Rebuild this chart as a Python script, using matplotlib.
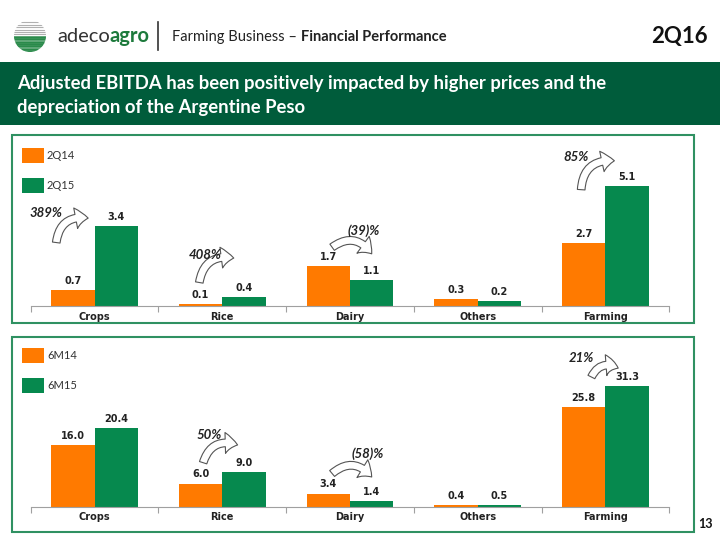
import matplotlib
matplotlib.use("Agg")
import numpy as np
import matplotlib.pyplot as plt
from matplotlib.patches import Rectangle, FancyArrowPatch, Circle

plt.rcParams["font.family"] = ["Lato", "DejaVu Sans"]

# data
categories = ["Crops", "Rice", "Dairy", "Others", "Farming"]
q_series = ["2Q14", "2Q15"]
q14 = [0.7, 0.1, 1.7, 0.3, 2.7]
q15 = [3.4, 0.4, 1.1, 0.2, 5.1]
m_series = ["6M14", "6M15"]
m14 = [16.0, 6.0, 3.4, 0.4, 25.8]
m15 = [20.4, 9.0, 1.4, 0.5, 31.3]

# change labels: (text, text xy, arrow tail, arrow head) in data units
q_changes = [
    ("389%", (-0.38, 3.96), (-0.30, 2.70), (-0.05, 3.74)),
    ("408%", (0.87, 2.17), (0.82, 1.00), (1.09, 2.04)),
    ("(39)%", (2.11, 3.22), (1.86, 2.50), (2.17, 2.22)),
    ("85%", (3.77, 6.35), (3.81, 4.95), (4.07, 6.18)),
]
m_changes = [
    ("50%", (0.90, 18.6), (0.85, 11.4), (1.12, 16.0)),
    ("(58)%", (2.14, 13.8), (1.86, 8.6), (2.17, 7.7)),
    ("21%", (3.81, 38.5), (3.89, 33.6), (4.10, 35.9)),
]

ORANGE = "#FF7A00"
GREEN = "#06894E"
DARK = "#005C3B"
W, H = 720, 540


def fx(px):
    return px / W


def fy(py):
    return 1 - py / H


fig = plt.figure(figsize=(7.2, 5.4), dpi=100)
renderer = fig.canvas.get_renderer()


def seq_text(x, y, parts, size):
    # draws text pieces one after another on a line (pixel coords)
    for s, weight, color in parts:
        t = fig.text(fx(x), fy(y), s, fontsize=size, fontweight=weight,
                     color=color, va="center", ha="left")
        bb = t.get_window_extent(renderer)
        x += bb.width


# header logo
lax = fig.add_axes([fx(14), fy(52), fx(32), 32 / H])
lax.set_xlim(-1, 1)
lax.set_ylim(-1, 1)
lax.set_aspect("equal")
lax.axis("off")
clip = Circle((0, 0), 1, transform=lax.transData)
for yy in np.arange(-0.95, 1.0, 0.15):
    col = "#2a8a4a" if yy < 0.05 else "#b0b0b0"
    lw = 1.8 if yy < 0.05 else 0.8
    ln, = lax.plot([-1, 1], [yy, yy], color=col, lw=lw)
    ln.set_clip_path(clip)

seq_text(57, 36, [("adeco", "normal", "#333333"), ("agro", "bold", "#1d7a3c")], 14.5)
fig.add_artist(plt.Line2D([fx(158), fx(158)], [fy(22), fy(50)], color="#333333", lw=1.2))
seq_text(172, 37, [("Farming Business – ", "normal", "#222222"),
                   ("Financial Performance", "bold", "#222222")], 10.5)
fig.text(fx(708), fy(37), "2Q16", fontsize=16, fontweight="bold", color="#111111",
         ha="right", va="center")

# banner
fig.add_artist(Rectangle((0, fy(125)), 1, 63 / H, transform=fig.transFigure,
                         facecolor=DARK, edgecolor="none"))
fig.text(fx(17), fy(84), "Adjusted EBITDA has been positively impacted by higher prices and the",
         fontsize=13.3, fontweight="bold", color="white", va="center")
fig.text(fx(17), fy(108), "depreciation of the Argentine Peso",
         fontsize=13.3, fontweight="bold", color="white", va="center")

LBL = ["DejaVu Sans"]


def panel(box, ax_rect, ymax, s1, s2, names, changes, leg_y, label_off):
    x0, y0, x1, y1 = box
    fig.add_artist(Rectangle((fx(x0), fy(y1)), fx(x1 - x0), (y1 - y0) / H,
                             transform=fig.transFigure, facecolor="none",
                             edgecolor="#2f9162", lw=1.5))
    ax = fig.add_axes(ax_rect)
    x = np.arange(len(categories))
    bw = 0.34
    ax.bar(x - bw / 2, s1, bw, color=ORANGE, edgecolor="none")
    ax.bar(x + bw / 2, s2, bw, color=GREEN, edgecolor="none")
    for xi, v in zip(x, s1):
        ax.text(xi - bw / 2, v + label_off, f"{v:.1f}", ha="center", va="center",
                fontsize=7, fontweight="bold", color="#222222", family=LBL)
    for xi, v in zip(x, s2):
        ax.text(xi + bw / 2, v + label_off, f"{v:.1f}", ha="center", va="center",
                fontsize=7, fontweight="bold", color="#222222", family=LBL)
    ax.set_xlim(-0.5, len(categories) - 0.5)
    ax.set_ylim(0, ymax)
    for sp in ["top", "right", "left"]:
        ax.spines[sp].set_visible(False)
    ax.spines["bottom"].set_color("#a0a0a0")
    ax.set_yticks([])
    ax.set_xticks(np.arange(-0.5, len(categories), 1.0))
    ax.set_xticklabels([])
    ax.set_xticks(x, minor=True)
    ax.set_xticklabels(categories, minor=True, fontsize=7, fontweight="bold",
                       color="#222222", family=LBL)
    ax.tick_params(axis="x", which="major", length=4, color="#a0a0a0", direction="out")
    ax.tick_params(axis="x", which="minor", length=0, pad=4)
    ax.patch.set_alpha(0)

    # legend
    for i, (nm, col) in enumerate(zip(names, [ORANGE, GREEN])):
        yy = leg_y + i * 30
        fig.add_artist(Rectangle((fx(22), fy(yy + 15)), fx(22), 15 / H,
                                 transform=fig.transFigure, facecolor=col,
                                 edgecolor="none"))
        fig.text(fx(47), fy(yy + 7.5), nm, fontsize=8, color="#333333", va="center")

    for txt, tpos, tail, head in changes:
        ax.text(tpos[0], tpos[1], txt, ha="center", va="center", fontsize=9.5,
                fontweight="bold", style="italic", color="#222222")
        arr = FancyArrowPatch(tail, head, transform=ax.transData,
                              connectionstyle="arc3,rad=-0.5",
                              arrowstyle="simple,head_length=9,head_width=15,tail_width=5.5",
                              mutation_scale=1, facecolor="white",
                              edgecolor="#555555", lw=0.8, shrinkA=0, shrinkB=0)
        ax.add_patch(arr)
    return ax


panel((12, 135, 694, 323), [fx(30.7), fy(306), fx(638.6), 166 / H], 166 / 23.5,
      q14, q15, q_series, q_changes, 148, 0.38)
panel((12, 337, 694, 532), [fx(30.7), fy(506.7), fx(638.6), 161.7 / H], 161.7 / 3.86,
      m14, m15, m_series, m_changes, 348, 2.4)

fig.text(fx(705), fy(524), "13", fontsize=9, fontweight="bold", color="#111111",
         ha="center", va="center")

fig.savefig("out.png", dpi=100)
